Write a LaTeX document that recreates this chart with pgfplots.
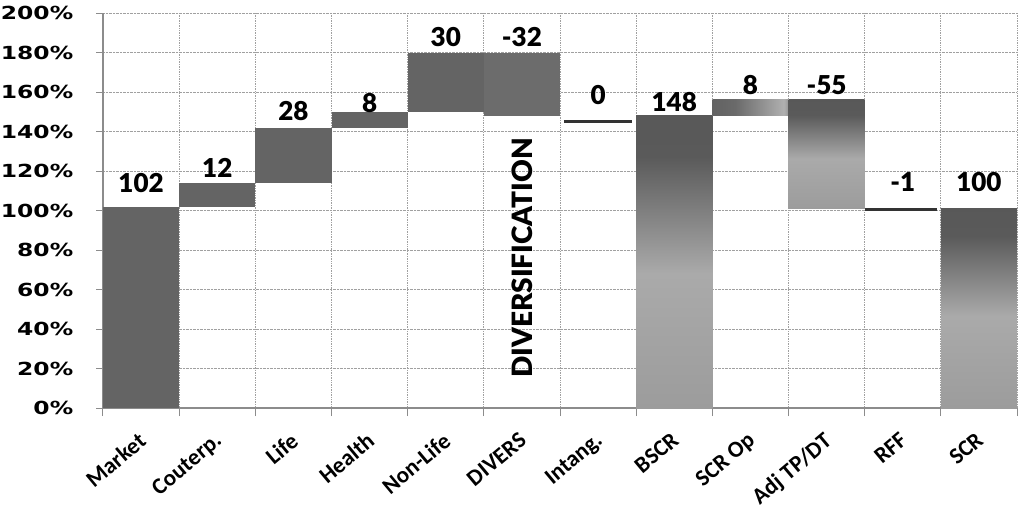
\documentclass[border=0pt]{standalone}
\usepackage{fontspec}
\usepackage{pgfplots}
\pgfplotsset{compat=1.18}
\setmainfont{Lato}
\newfontfamily\numfont{Lato Black}
\newfontfamily\tickfont{DejaVu Sans}
\newfontfamily\catfont{Carlito}

\definecolor{barfill}{HTML}{646464}
\definecolor{lineclr}{HTML}{333333}
\definecolor{gridclr}{HTML}{A0A0A0}
\definecolor{axisclr}{HTML}{8C8C8C}
\definecolor{gA}{HTML}{8C8C8C}
\definecolor{gB}{HTML}{9C9C9C}
\definecolor{gC}{HTML}{AAAAAA}
\definecolor{gD}{HTML}{5A5A5A}
\definecolor{gE}{HTML}{565656}
\definecolor{gF}{HTML}{6E6E6E}
\definecolor{hA}{HTML}{555555}
\definecolor{hB}{HTML}{6A6A6A}
\definecolor{hC}{HTML}{B0B0B0}

% vertical gradient of the total bars (0bp = bottom)
\pgfdeclareverticalshading{gradv}{100bp}{color(0bp)=(gA); color(25bp)=(gB);
  color(48bp)=(gC); color(68bp)=(gD); color(85bp)=(gE); color(100bp)=(gF)}
% left-to-right gradient of the SCR Op bar
\pgfdeclarehorizontalshading{gradh}{100bp}{color(0bp)=(hA); color(40bp)=(hB);
  color(72bp)=(hC); color(80bp)=(hB); color(100bp)=(hB)}

\begin{document}
\begin{tikzpicture}
\begin{axis}[
    width=914pt, height=395pt, scale only axis,
    xmin=-0.5, xmax=11.5, ymin=0, ymax=200,
    axis lines*=left,
    axis line style={axisclr, line width=1.2pt},
    xtick={0,...,11},
    xticklabels={Market, Couterp., Life, Health, Non-Life, DIVERS, Intang., BSCR, SCR Op, Adj TP/DT, RFF, SCR},
    major x tick style={draw=none},
    minor xtick={-0.5,0.5,...,11.5},
    xminorgrids, ymajorgrids,
    tick align=outside,
    major tick length=7pt, minor tick length=8pt,
    tick style={axisclr, line width=1pt},
    grid style={densely dotted, gridclr, line width=0.7pt},
    minor grid style={densely dotted, gridclr, line width=0.7pt},
    ytick={0,20,...,200},
    yticklabel={\pgfmathprintnumber{\tick}\%},
    /pgf/number format/assume math mode=true,
    yticklabel style={font=\tickfont\bfseries\fontsize{18}{20}\selectfont,
        xscale=1.3, xshift=-14pt},
    xticklabel style={font=\catfont\bfseries\fontsize{23}{25}\selectfont,
        xshift=-4pt, yshift=-16pt, rotate=40, anchor=north east, inner sep=0pt},
    clip=false,
]
% floating bars: (left,low) (right,low) (right,high) (left,high)
\addplot[fill=barfill, draw=none] coordinates {(-0.5,0) (0.5,0) (0.5,102) (-0.5,102)} -- cycle;
\addplot[fill=barfill, draw=none] coordinates {(0.5,102) (1.5,102) (1.5,114) (0.5,114)} -- cycle;
\addplot[fill=barfill, draw=none] coordinates {(1.5,114) (2.5,114) (2.5,142) (1.5,142)} -- cycle;
\addplot[fill=barfill, draw=none] coordinates {(2.5,142) (3.5,142) (3.5,150) (2.5,150)} -- cycle;
\addplot[fill=barfill, draw=none] coordinates {(3.5,150) (4.5,150) (4.5,180) (3.5,180)} -- cycle;
\addplot[fill=barfill!95!white, draw=none] coordinates {(4.5,148) (5.5,148) (5.5,180) (4.5,180)} -- cycle;
\addplot[lineclr, line width=3pt] coordinates {(5.55,145) (6.45,145)};
\addplot[shade, shading=gradv, draw=none] coordinates {(6.5,0) (7.5,0) (7.5,148) (6.5,148)} -- cycle;
\addplot[shade, shading=gradh, draw=none] coordinates {(7.5,148) (8.5,148) (8.5,156) (7.5,156)} -- cycle;
\addplot[shade, shading=gradv, draw=none] coordinates {(8.5,101) (9.5,101) (9.5,156) (8.5,156)} -- cycle;
\addplot[lineclr, line width=3pt] coordinates {(9.51,100.3) (10.45,100.3)};
\addplot[shade, shading=gradv, draw=none] coordinates {(10.5,0) (11.5,0) (11.5,101) (10.5,101)} -- cycle;

% value labels
\addplot[draw=none, nodes near coords, point meta=explicit symbolic,
    nodes near coords style={anchor=center, font=\numfont\fontsize{26}{28}\selectfont}]
  coordinates {
    (0,114) [102] (1,121.8) [12] (2,150.4) [28] (3,154.4) [8]
    (4,187.6) [30] (5,187.6) [-32] (6,158.5) [0] (7,154.7) [148]
    (8,163.5) [8] (9,163.5) [-55] (10,114.2) [-1] (11,114.2) [100]
  };

\node[rotate=90, font=\numfont\fontsize{28}{30}\selectfont] at (axis cs:5,76) {DIVERSIFICATION};
\end{axis}
\pgfresetboundingbox
\path (-103pt,-104pt) rectangle (921pt,408pt);
\end{tikzpicture}
\end{document}
